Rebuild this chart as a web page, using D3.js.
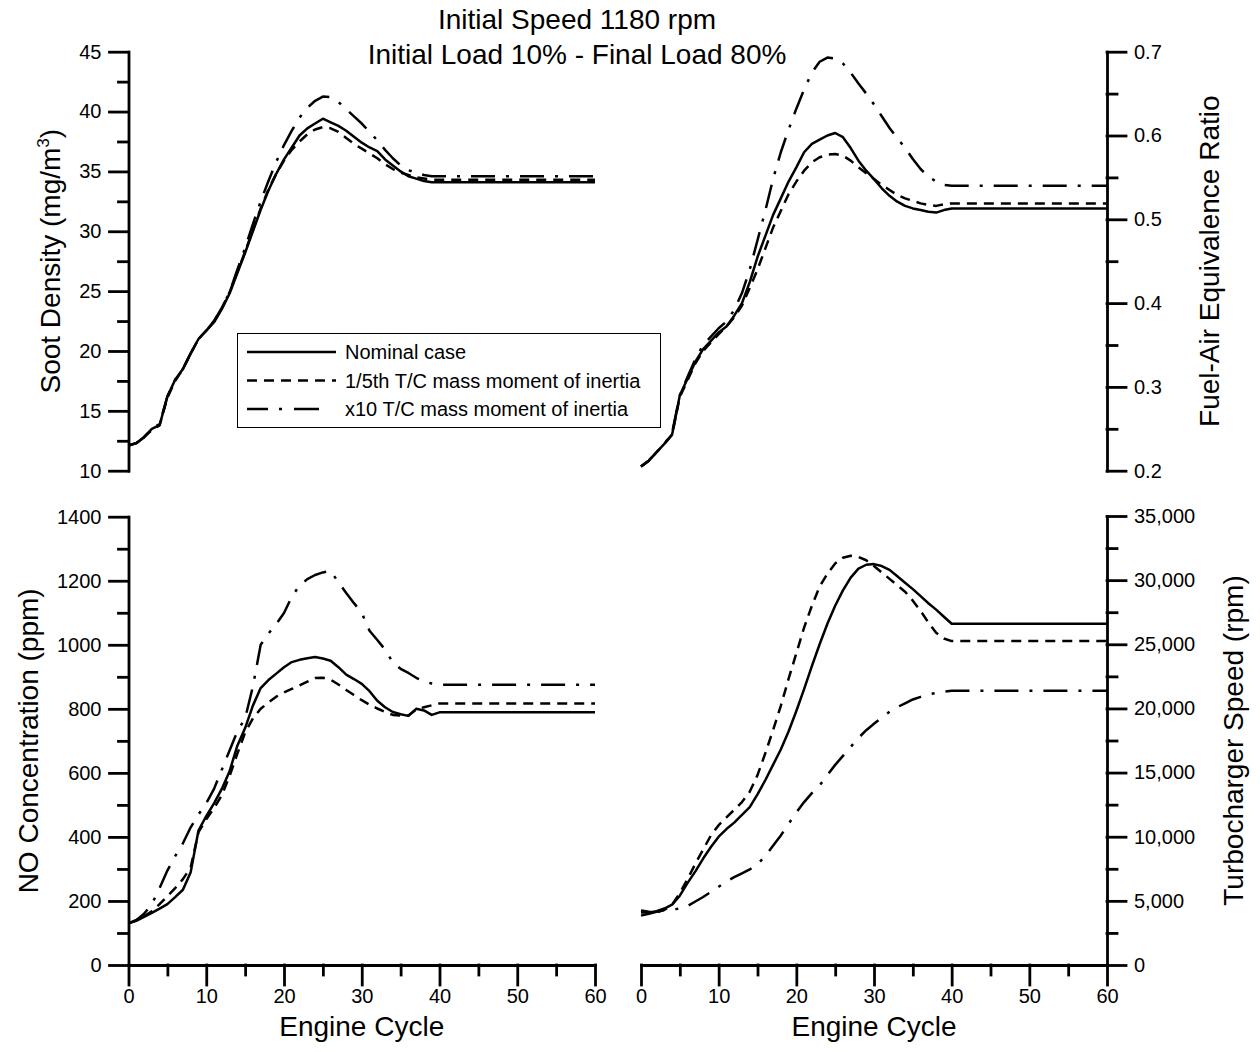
<!DOCTYPE html>
<html><head><meta charset="utf-8">
<script src="https://cdn.jsdelivr.net/npm/d3@7"></script>
<style>
body{margin:0;background:#fff}
svg text{font-family:"Liberation Sans",Arial,sans-serif;fill:#000}
</style>
</head><body>
<svg id="chart" width="1260" height="1052"></svg>
<script>
// ---------- DATA ----------
const cycles = [0,1,2,3,4,5,6,7,8,9,10,11,12,13,14,15,16,17,18,19,20,21,22,23,24,25,26,27,28,29,30,31,32,33,34,35,36,37,38,39,40,60];

const seriesNames = ["Nominal case", "1/5th T/C mass moment of inertia", "x10 T/C mass moment of inertia"];

const sootNominal = [12.1,12.3,12.8,13.5,13.8,16.2,17.6,18.5,19.8,21.0,21.7,22.4,23.5,24.8,26.5,28.2,30.0,31.8,33.4,34.8,36.0,37.0,38.0,38.6,39.0,39.4,39.1,38.8,38.4,37.9,37.4,37.0,36.7,36.0,35.5,35.0,34.6,34.4,34.2,34.1,34.1,34.1];
const sootFifth   = [12.1,12.3,12.8,13.4,13.8,16.1,17.5,18.5,19.8,21.0,21.7,22.5,23.6,24.9,26.6,28.3,30.1,31.9,33.5,34.8,35.9,36.8,37.5,38.1,38.5,38.7,38.6,38.3,37.8,37.3,36.9,36.5,36.1,35.6,35.2,34.9,34.7,34.5,34.4,34.3,34.3,34.3];
const sootTen     = [12.1,12.3,12.8,13.5,13.9,16.2,17.6,18.5,19.8,21.0,21.7,22.5,23.6,24.9,26.8,28.6,30.6,32.5,34.2,35.8,37.2,38.4,39.5,40.3,40.9,41.25,41.2,40.8,40.2,39.6,39.0,38.3,37.6,36.8,36.1,35.5,35.1,34.9,34.7,34.6,34.6,34.6];

const faerNominal = [0.205,0.212,0.222,0.232,0.243,0.29,0.31,0.33,0.345,0.355,0.365,0.372,0.385,0.40,0.425,0.455,0.48,0.505,0.525,0.545,0.562,0.58,0.59,0.595,0.60,0.603,0.598,0.585,0.57,0.558,0.548,0.537,0.528,0.521,0.516,0.513,0.511,0.509,0.508,0.511,0.513,0.513];
const faerFifth   = [0.205,0.212,0.222,0.232,0.243,0.288,0.308,0.328,0.343,0.353,0.363,0.372,0.383,0.397,0.418,0.44,0.465,0.49,0.51,0.53,0.545,0.558,0.568,0.574,0.577,0.578,0.576,0.57,0.562,0.555,0.548,0.541,0.535,0.529,0.525,0.522,0.519,0.517,0.516,0.518,0.519,0.519];
const faerTen     = [0.205,0.212,0.222,0.232,0.245,0.29,0.312,0.333,0.35,0.36,0.37,0.378,0.392,0.412,0.44,0.475,0.51,0.548,0.58,0.607,0.632,0.655,0.675,0.688,0.693,0.692,0.686,0.675,0.662,0.65,0.637,0.623,0.609,0.597,0.585,0.572,0.56,0.551,0.545,0.541,0.54,0.54];

const noNominal = [130,138,150,163,176,190,212,235,290,420,465,505,550,605,685,740,810,865,890,910,930,946,953,958,962,957,950,930,907,893,878,855,825,805,790,783,778,800,795,781,789,789];
const noFifth   = [130,140,152,168,190,215,240,268,305,415,455,490,530,590,660,726,770,800,820,838,851,862,873,885,896,897,891,876,859,843,827,813,801,790,781,779,779,798,805,811,817,817];
const noTen     = [130,140,160,190,240,295,340,380,430,470,505,550,610,670,730,770,870,1000,1035,1065,1099,1150,1185,1205,1218,1226,1231,1195,1162,1130,1100,1044,1015,985,945,925,912,897,886,879,875,875];

const tcNominal = [4100,4100,4200,4400,4700,5400,6400,7300,8300,9200,10000,10600,11100,11700,12300,13300,14400,15600,16800,18200,19800,21500,23300,25000,26600,28000,29200,30200,30900,31200,31250,31100,30800,30300,29800,29300,28750,28200,27700,27150,26600,26600];
const tcFifth   = [4250,4150,4100,4300,4700,5600,6700,7900,9000,10100,10900,11500,12100,12700,13500,14800,16500,18300,20200,22300,24300,26300,28000,29500,30500,31300,31750,31900,31800,31550,31100,30600,30100,29600,29100,28400,27600,26700,25900,25450,25250,25250];
const tcTen     = [3850,4000,4150,4280,4330,4390,4600,4950,5300,5700,6100,6500,6850,7150,7450,7850,8500,9300,10100,11000,11900,12700,13400,14000,14800,15600,16300,17000,17700,18300,18800,19300,19750,20100,20400,20700,20900,21100,21200,21300,21370,21370];

const xTicks = [0,10,20,30,40,50,60];
const xMinor = [5,15,25,35,45,55];
const sootTicks = [10,15,20,25,30,35,40,45];
const sootMinor = [12.5,17.5,22.5,27.5,32.5,37.5,42.5];
const faerTicks = [0.2,0.3,0.4,0.5,0.6,0.7];
const faerMinor = [0.25,0.35,0.45,0.55,0.65];
const noTicks = [0,200,400,600,800,1000,1200,1400];
const noMinor = [100,300,500,700,900,1100,1300];
const tcTicks = [0,5000,10000,15000,20000,25000,30000,35000];
const tcMinor = [2500,7500,12500,17500,22500,27500,32500];

const titleLines = ["Initial Speed 1180 rpm", "Initial Load 10% - Final Load 80%"];

// ---------- DRAW ----------
const svg = d3.select("#chart");
const FONT = '"Liberation Sans", Arial, sans-serif';
const dashes = [null, "10 7", "24 11 3 11"];
const AXW = 2.8, LW = 2.5;

const xL = d3.scaleLinear().domain([0,60]).range([128.5,595]);
const xR = d3.scaleLinear().domain([0,60]).range([641,1107]);
const topY = [470.7, 51.7], botY = [965, 516.7];

function styleAxis(g, fs){
  g.selectAll("path,line").attr("stroke","#000").attr("stroke-width",AXW).attr("stroke-linecap","square");
  g.selectAll("text").attr("font-size",fs).attr("font-family",FONT).attr("fill","#000");
  g.attr("font-family",FONT);
}
function yAxis(y, major, minor, side, xpos, fmt){
  const mk = side==="left" ? d3.axisLeft : d3.axisRight;
  const g = svg.append("g").attr("transform",`translate(${xpos},0)`);
  g.call(mk(y).tickValues(major).tickSize(19).tickPadding(8).tickSizeOuter(0).tickFormat(fmt));
  styleAxis(g, 20);
  const gm = svg.append("g").attr("transform",`translate(${xpos},0)`);
  gm.call(mk(y).tickValues(minor).tickSize(10).tickSizeOuter(0).tickFormat(""));
  gm.select(".domain").remove();
  styleAxis(gm, 20);
}
function xAxis(x, ypos){
  const g = svg.append("g").attr("transform",`translate(0,${ypos})`);
  g.call(d3.axisBottom(x).tickValues(xTicks).tickSize(20).tickPadding(4).tickSizeOuter(0).tickFormat(d3.format("d")));
  styleAxis(g, 20);
  const gm = svg.append("g").attr("transform",`translate(0,${ypos})`);
  gm.call(d3.axisBottom(x).tickValues(xMinor).tickSize(10).tickSizeOuter(0).tickFormat(""));
  gm.select(".domain").remove();
  styleAxis(gm, 20);
}
function curves(x, y, list){
  list.forEach((vals,i)=>{
    const line = d3.line().x((d,j)=>x(cycles[j])).y(d=>y(d));
    svg.append("path").datum(vals).attr("d",line).attr("fill","none")
      .attr("stroke","#000").attr("stroke-width",LW)
      .attr("stroke-linejoin","round")
      .attr("stroke-dasharray",dashes[i]);
  });
}
function yTitle(xpos, ycen){
  return svg.append("text").attr("transform",`translate(${xpos},${ycen}) rotate(-90)`)
    .attr("text-anchor","middle").attr("font-size",28).attr("font-family",FONT);
}

// Panel 1: Soot
const ySoot = d3.scaleLinear().domain([10,45]).range(topY);
curves(xL, ySoot, [sootNominal, sootFifth, sootTen]);
yAxis(ySoot, sootTicks, sootMinor, "left", 128.5, d3.format("d"));
const st = yTitle(60, (topY[0]+topY[1])/2);
st.append("tspan").text("Soot Density (mg/m");
st.append("tspan").text("3").attr("dy",-11).attr("font-size",17);
st.append("tspan").text(")").attr("dy",11);

// Panel 2: FAER
const yFaer = d3.scaleLinear().domain([0.2,0.7]).range(topY);
curves(xR, yFaer, [faerNominal, faerFifth, faerTen]);
yAxis(yFaer, faerTicks, faerMinor, "right", 1107, d3.format(".1f"));
yTitle(1219, (topY[0]+topY[1])/2).text("Fuel-Air Equivalence Ratio");

// Panel 3: NO
const yNo = d3.scaleLinear().domain([0,1400]).range(botY);
curves(xL, yNo, [noNominal, noFifth, noTen]);
yAxis(yNo, noTicks, noMinor, "left", 128.5, d3.format("d"));
xAxis(xL, 965);
yTitle(38, (botY[0]+botY[1])/2).text("NO Concentration (ppm)");

// Panel 4: TC speed
const yTc = d3.scaleLinear().domain([0,35000]).range([965,516]);
curves(xR, yTc, [tcNominal, tcFifth, tcTen]);
yAxis(yTc, tcTicks, tcMinor, "right", 1107, d3.format(","));
xAxis(xR, 965);
yTitle(1243, (965+516)/2).text("Turbocharger Speed (rpm)");

// x titles
[xL, xR].forEach(x=>{
  svg.append("text").attr("x",(x.range()[0]+x.range()[1])/2).attr("y",1036)
    .attr("text-anchor","middle").attr("font-size",28).attr("font-family",FONT).text("Engine Cycle");
});

// title
titleLines.forEach((t,i)=>{
  svg.append("text").attr("x",577).attr("y",29+i*35).attr("text-anchor","middle")
    .attr("font-size",28).attr("font-family",FONT).text(t);
});

// legend
const lg = svg.append("g");
lg.append("rect").attr("x",237.5).attr("y",333.5).attr("width",423).attr("height",94)
  .attr("fill","#fff").attr("stroke","#000").attr("stroke-width",1);
const legendDash = [null, "10 7", "21 11 3 12 25 100"];
seriesNames.forEach((n,i)=>{
  const yy = 352 + i*28.5;
  lg.append("line").attr("x1",247).attr("x2",336).attr("y1",yy).attr("y2",yy)
    .attr("stroke","#000").attr("stroke-width",LW).attr("stroke-dasharray",legendDash[i]);
  lg.append("text").attr("x",345).attr("y",yy+7).attr("font-size",20).attr("font-family",FONT).text(n);
});
</script>
</body></html>
